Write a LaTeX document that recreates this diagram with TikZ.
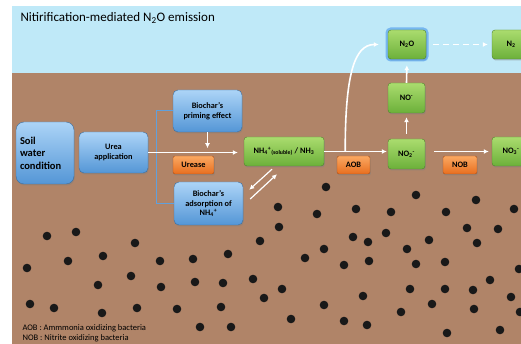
\documentclass[tikz,border=0pt]{standalone}
\usepackage{fontspec}
\setmainfont{Carlito}
\usetikzlibrary{arrows.meta,shadows}
\definecolor{sky}{RGB}{191,233,248}
\definecolor{soil}{RGB}{176,132,104}
\definecolor{bluetop}{RGB}{172,212,247}
\definecolor{bluebot}{RGB}{84,150,214}
\definecolor{blueline}{RGB}{60,110,160}
\definecolor{bracketblue}{RGB}{96,160,220}
\definecolor{greentop}{RGB}{170,220,110}
\definecolor{greenbot}{RGB}{108,176,58}
\definecolor{greenline}{RGB}{80,130,45}
\definecolor{orangetop}{RGB}{250,168,98}
\definecolor{orangebot}{RGB}{232,110,30}
\definecolor{orangeline}{RGB}{170,80,25}
\definecolor{glow}{RGB}{70,150,235}
\tikzset{
  box/.style={inner sep=0pt, align=center, font=\bfseries\fontsize{8.3}{9.6}\selectfont,
    drop shadow={shadow xshift=0.8pt, shadow yshift=-1.5pt, opacity=0.45}},
  bluebox/.style={box, rounded corners=5pt, draw=blueline, top color=bluetop, bottom color=bluebot,
    minimum width=69pt, minimum height=42pt},
  greenbox/.style={box, rounded corners=3pt, draw=greenline, top color=greentop, bottom color=greenbot,
    minimum width=37pt, minimum height=30pt},
  orangebox/.style={box, rounded corners=2pt, draw=orangeline, top color=orangetop, bottom color=orangebot,
    minimum height=18pt},
  flow/.style={draw=white, line width=1.6pt, -{Latex[length=5pt,width=5pt]}},
  bracket/.style={draw=bracketblue, line width=1pt},
}
\begin{document}
\begin{tikzpicture}[x=1pt,y=-1pt]
  \clip (0,0) rectangle (521,344);
  % sky and soil
  \fill[white] (0,0) rectangle (521,344);
  \fill[sky] (12,6) rectangle (521,73);
  \fill[soil] (12,73) rectangle (521,344);
  % soil particles
  \foreach \px/\py in {47/236,76/232,135/243,27/268,68/261,103/256,160/261,193/259,228/254,
      98/285,131/276,161/287,195/282,223/283,253/279,30/304,54/308,102/313,137/308,177/309,
      221/307,200/327,231/327,260/241,279/227,353/237,368/242,386/233,324/249,305/258,
      344/265,369/261,407/249,429/240,416/264,445/262,467/228,498/229,477/243,519/269,
      490/280,282/289,264/298,324/305,363/296,410/289,445/289,473/290,511/297,432/304,
      401/312,474/309,520/312,291/319,344/321,367/325,447/333,500/330,326/187,278/207,
      317/214,356/209,391/212,416/195,446/212,476/200,514/209}
    \fill[black!90] (\px,\py) circle (4.3pt);
  \node[anchor=west, font=\fontsize{13}{15}\selectfont] (title) at (17,18) {Nitirification-mediated N\textsubscript{2}O emission};
  % boxes
  \node[bluebox, rounded corners=8pt, minimum width=58pt, minimum height=62pt, font=\bfseries\fontsize{10.5}{12.5}\selectfont,
    align=left, text width=50pt] (soil) at (45,153) {Soil\\water\\condition};
  \node[bluebox, minimum height=41pt] (urea) at (113.5,152.5) {Urea\\application};
  \node[bluebox] (priming) at (207.5,111) {Biochar’s\\priming effect};
  \node[bluebox, minimum height=43pt] (adsorption) at (208.5,203.5) {Biochar’s\\adsorption of\\NH\textsubscript{4}\textsuperscript{+}};
  \node[orangebox, minimum width=41pt] (urease) at (193.5,165) {Urease};
  \node[greenbox, minimum width=80pt, minimum height=29pt] (nh4) at (284,151.5)
    {NH\textsubscript{4}\textsuperscript{+}\textsubscript{(soluble)} / NH\textsubscript{3}};
  \node[orangebox, minimum width=33pt] (aob) at (353.5,165) {AOB};
  \node[greenbox] (no2) at (406.5,154) {NO\textsubscript{2}\textsuperscript{-}};
  \node[greenbox] (no) at (406.5,98) {NO\textsuperscript{-}};
  \node[greenbox, minimum width=38pt, minimum height=29pt,
    preaction={draw=glow, line width=5pt, opacity=0.6, rounded corners=4pt}] (n2o) at (407,44.5) {N\textsubscript{2}O};
  \node[greenbox, minimum width=38pt, minimum height=29pt] (n2) at (511,44.5) {N\textsubscript{2}};
  \node[orangebox, minimum width=34pt] (nob) at (460,165) {NOB};
  \node[greenbox, minimum width=38pt, minimum height=29pt] (no3) at (511,151.5) {NO\textsubscript{3}\textsuperscript{-}};
  % connectors
  \draw[bracket] (urea.east) -- ++(8,0) coordinate (split) |- (priming.west);
  \draw[bracket] (split) |- (adsorption.west);
  \draw[flow, shorten >=6pt] (urea.east) -- (urea.east -| nh4.west);
  \draw[flow, shorten >=2pt] (priming.south) -- ++(0,18);
  \coordinate (down1) at ([shift={(-12,3)}]nh4.south);
  \coordinate (down2) at ([shift={(6,8)}]adsorption.north east);
  \coordinate (up1) at ([shift={(7,-4.5)}]adsorption.east);
  \coordinate (up2) at ([shift={(-7,8)}]nh4.south);
  \draw[flow, line width=1.2pt] (down1) -- (down2);
  \draw[flow, line width=1.2pt] (up1) -- (up2);
  \draw[flow, shorten >=1pt] (nh4.east) -- (nh4.east -| no2.west);
  \coordinate (fork) at ([xshift=21pt]nh4.east);
  \draw[flow, shorten >=9pt] (fork) .. controls +(0,-75) and +(-34,0) .. (n2o.west);
  \draw[flow, shorten <=5pt, shorten >=4pt] (no2.north) -- (no.south);
  \draw[flow, shorten >=6pt] (no.north) -- (n2o.south);
  \draw[flow, dashed, dash pattern=on 6pt off 4pt, shorten <=7pt, shorten >=4pt] (n2o.east) -- (n2o.east -| n2.west);
  \draw[flow, shorten <=9pt, shorten >=3pt] (no2.east |- no3.west) -- (no3.west);
  % legend
  \node[anchor=west, font=\fontsize{8.5}{10}\selectfont] (legendaob) at (19,328) {AOB : Ammmonia oxidizing bacteria};
  \node[anchor=west, font=\fontsize{8.5}{10}\selectfont] (legendnob) at (19,338) {NOB : Nitrite oxidizing bacteria};
\end{tikzpicture}
\end{document}
